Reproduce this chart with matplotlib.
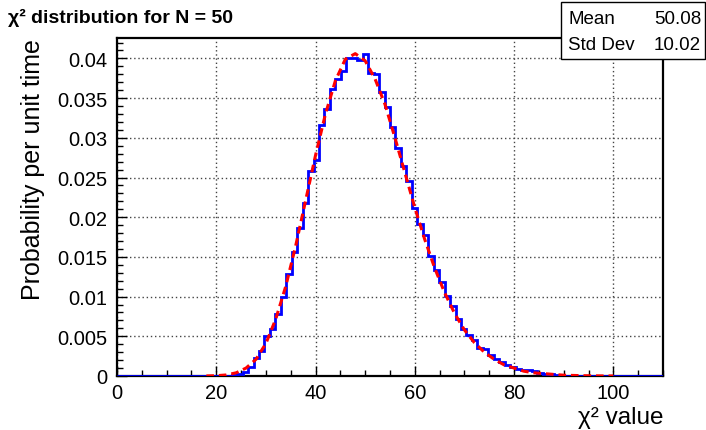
import numpy as np
import matplotlib
matplotlib.use("Agg")
import matplotlib.pyplot as plt
from matplotlib.patches import Rectangle
from matplotlib.ticker import MultipleLocator

plt.rcParams['font.family'] = ['Liberation Sans', 'DejaVu Sans']

# ---- data ----
title = "χ² distribution for N = 50"
x_label = "χ² value"
y_label = "Probability per unit time"
stats_names = ["Mean", "Std Dev"]
stats_values = ["50.08", "10.02"]

hist_range = (0.0, 110.0)
n_bins = 100
# bin contents (bins 0..99)
hist_values = [0.0] * 20 + [
    0.00004, 0.00012, 0.0002, 0.0005, 0.0011, 0.0023, 0.0032, 0.0050, 0.0059, 0.0078,
    0.0100, 0.0128, 0.0156, 0.0186, 0.0218, 0.0258, 0.0272, 0.0316, 0.0336, 0.0361,
    0.0374, 0.0384, 0.0400, 0.0400, 0.0398, 0.0405, 0.0381, 0.0380, 0.0358, 0.0339,
    0.0314, 0.0287, 0.0264, 0.0246, 0.0212, 0.0191, 0.0177, 0.0151, 0.0133, 0.0119,
    0.0101, 0.0088, 0.0072, 0.0059, 0.0052, 0.0045, 0.0035, 0.0034, 0.0026, 0.0022,
    0.0018, 0.0014, 0.0011, 0.0009, 0.0007, 0.0007, 0.0006, 0.0004, 0.0002, 0.0002,
    0.0001] + [0.0] * 19

# red dashed curve
curve_x = [18, 20, 22, 24, 26, 28, 30, 32, 34, 36, 38, 40, 42, 44, 46, 48, 50, 52, 54, 56,
           58, 60, 62, 64, 66, 68, 70, 72, 74, 76, 78, 80, 82, 84, 86, 88, 90, 92, 94, 96,
           98, 100]
curve_y = [0.00001, 0.00004, 0.00013, 0.0004, 0.0010, 0.0021, 0.0041, 0.0072, 0.0113, 0.0164,
           0.0221, 0.0278, 0.0330, 0.0372, 0.0399, 0.0406, 0.0397, 0.0374, 0.0342, 0.0300,
           0.0256, 0.0212, 0.0172, 0.0136, 0.0105, 0.0079, 0.0058, 0.0042, 0.0030, 0.0021,
           0.0014, 0.0010, 0.0006, 0.0004, 0.0003, 0.0002, 0.0001, 0.00007, 0.00004, 0.00002,
           0.00001, 0.00001]

# ---- figure ----
W, H = 706, 431
fig = plt.figure(figsize=(W / 100, H / 100), dpi=100)
ax = fig.add_axes([117 / W, 1 - 377 / H, (663 - 117) / W, (377 - 39) / H])

edges = np.linspace(hist_range[0], hist_range[1], n_bins + 1)
ax.stairs(hist_values, edges, color='#0000ff', lw=2.0, zorder=3)
ax.plot(curve_x, curve_y, color='#ff0000', lw=2.2, linestyle=(0, (2.5, 1.6)), zorder=4)

ax.set_xlim(0, 110)
ax.set_ylim(0, 0.04257)
ax.xaxis.set_major_locator(MultipleLocator(20))
ax.xaxis.set_minor_locator(MultipleLocator(5))
ax.yaxis.set_major_locator(MultipleLocator(0.005))
ax.yaxis.set_minor_locator(MultipleLocator(0.001))
ax.yaxis.set_major_formatter(matplotlib.ticker.FuncFormatter(lambda v, p: ('%g' % round(v, 4))))
ax.tick_params(which='both', direction='in', top=False, right=False, labelsize=14.5)
ax.tick_params(which='major', length=7, width=1)
ax.tick_params(which='minor', length=4, width=1)
ax.tick_params(axis='x', pad=5)
ax.tick_params(axis='y', pad=7)
ax.grid(True, which='major', color='#444444', linestyle=(0, (1, 2)), lw=1.0)
for s in ax.spines.values():
    s.set_linewidth(1.6)

fig.text(33 / W, 1 - 39 / H, y_label, rotation=90, ha='center', va='top', fontsize=18)
fig.text(663 / W, 1 - 424 / H, x_label, ha='right', va='baseline', fontsize=17.5)
fig.text(8 / W, 1 - 18 / H, title, ha='left', va='center', fontsize=14, fontweight='bold')

# stats box
fig.patches.append(Rectangle((561 / W, 1 - 60 / H), (705 - 561) / W, 57 / H,
                             transform=fig.transFigure, facecolor='white',
                             edgecolor='black', lw=1.0, zorder=10))
for i, (n, v) in enumerate(zip(stats_names, stats_values)):
    yy = 1 - (19 + i * 26) / H
    fig.text(568 / W, yy, n, ha='left', va='center', fontsize=13.5, zorder=11)
    fig.text(701 / W, yy, v, ha='right', va='center', fontsize=13.5, zorder=11)

fig.savefig('out.png', dpi=100)
